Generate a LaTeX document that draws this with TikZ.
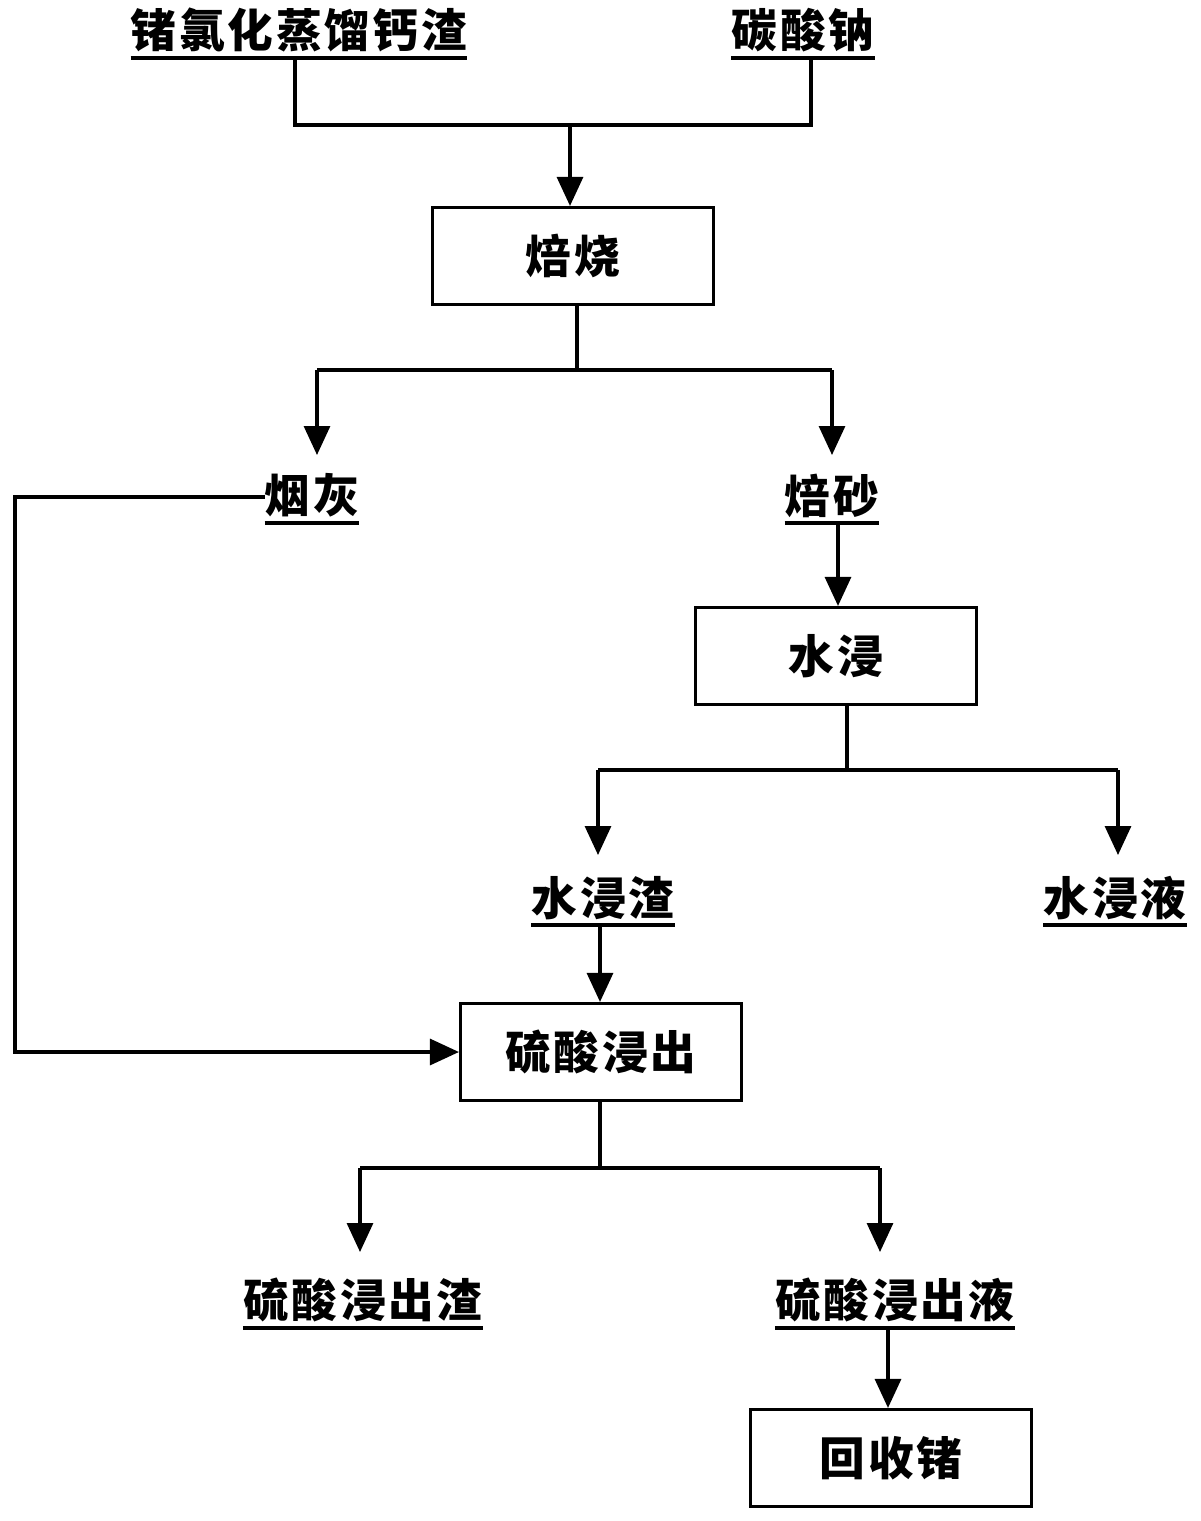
\documentclass[tikz,border=0pt]{standalone}
\usepackage{fontspec}
\newfontfamily\cjk{Noto Sans CJK SC}[LetterSpace=6]
\usetikzlibrary{arrows.meta}
\tikzset{
    stage/.style={
        rectangle,
        draw=black,
        line width=1.8pt,
        minimum width=5.62cm,
        minimum height=1.94cm,
        font=\cjk\bfseries\fontsize{26}{30}\selectfont
    },
    stuff/.style={
        inner xsep=0pt,
        inner ysep=3pt,
        anchor=south,
        font=\cjk\bfseries\fontsize{26}{30}\selectfont
    },
    line/.style={
        line width=1.8pt
    },
    arrow/.style={
        -{Triangle[width=0.52cm,length=0.58cm]},
        line width=1.8pt
    }
}

\begin{document}
\begin{tikzpicture}[x=0.02cm,y=-0.02cm]
    \useasboundingbox (0,0) rectangle (1200,1521);
    % raw materials
    \node (slag) [stuff] at (299,58) {锗氯化蒸馏钙渣};
    \node (soda) [stuff] at (803,58) {碳酸钠};
    \node (roast) [stage] at (573,256) {焙烧};
    \node (dust) [stuff] at (312,523) {烟灰};
    \node (calcine) [stuff] at (832,523) {焙砂};
    \node (wleach) [stage] at (836,656) {水浸};
    \node (wres) [stuff] at (603,925) {水浸渣};
    \node (wsol) [stuff] at (1115,925) {水浸液};
    \node (aleach) [stage] at (601,1052) {硫酸浸出};
    \node (ares) [stuff] at (363,1328) {硫酸浸出渣};
    \node (asol) [stuff] at (895,1328) {硫酸浸出液};
    \node (recover) [stage] at (891,1458) {回收锗};
    % underlines
    \foreach \n in {slag,soda,dust,calcine,wres,wsol,ares,asol}
        \draw [line] (\n.south west) -- (\n.south east);
    % junctions
    \coordinate (j1) at (570,125);
    \coordinate (j2) at (577,370);
    \coordinate (j3) at (847,770);
    \coordinate (j4) at (600,1168);
    \coordinate (bend) at (15,497);
    % roasting
    \draw [line] (slag.south -| 295,0) |- (j1) -| (soda.south -| 811,0);
    \draw [arrow] (j1) -- (roast.north -| j1);
    \draw [line] (roast.south -| j2) -- (j2);
    \draw [arrow] (317,370) -- (317,455);
    \draw [arrow] (832,370) -- (832,455);
    \draw [line] (317,370) -- (832,370);
    % water leaching
    \draw [arrow] (calcine.south -| 838,0) -- (wleach.north -| 838,0);
    \draw [line] (wleach.south -| j3) -- (j3);
    \draw [line] (598,770) -- (1118,770);
    \draw [arrow] (598,770) -- (598,855);
    \draw [arrow] (1118,770) -- (1118,855);
    % acid leaching
    \draw [arrow] (wres.south -| 600,0) -- (aleach.north -| 600,0);
    \draw [arrow] (dust.west |- bend) -- (bend) |- (aleach.west);
    \draw [line] (aleach.south -| j4) -- (j4);
    \draw [line] (360,1168) -- (880,1168);
    \draw [arrow] (360,1168) -- (360,1252);
    \draw [arrow] (880,1168) -- (880,1252);
    \draw [arrow] (asol.south -| 888,0) -- (recover.north -| 888,0);
\end{tikzpicture}
\end{document}
